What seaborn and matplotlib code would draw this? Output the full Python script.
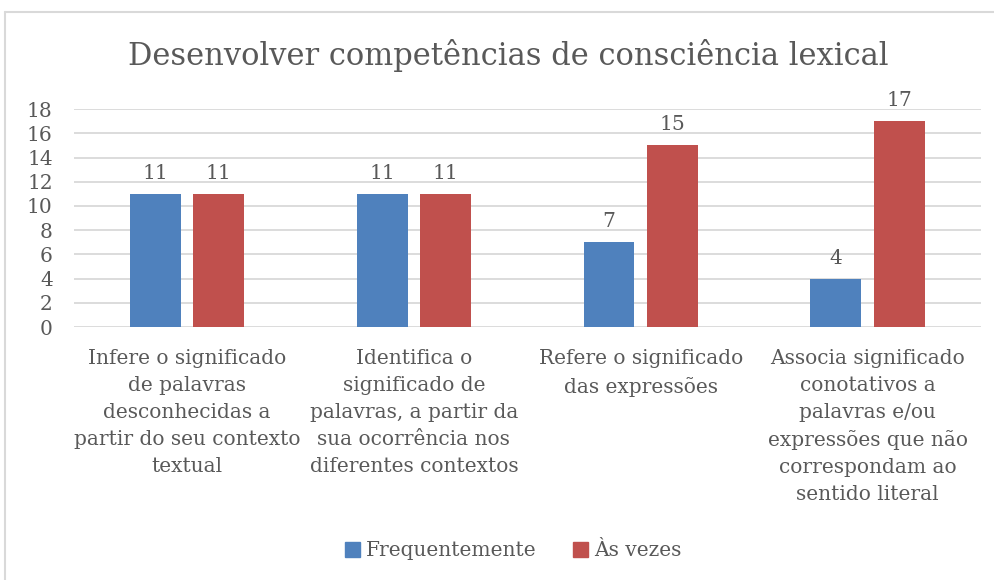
import matplotlib
matplotlib.use("Agg")
import matplotlib.pyplot as plt
import seaborn as sns
import pandas as pd
from matplotlib.lines import Line2D
from matplotlib.patches import Patch

# data
categorias = [
    "Infere o significado\nde palavras\ndesconhecidas a\npartir do seu contexto\ntextual",
    "Identifica o\nsignificado de\npalavras, a partir da\nsua ocorrência nos\ndiferentes contextos",
    "Refere o significado\ndas expressões",
    "Associa significado\nconotativos a\npalavras e/ou\nexpressões que não\ncorrespondam ao\nsentido literal",
]
series = ["Frequentemente", "Às vezes"]
frequentemente = [11, 11, 7, 4]
as_vezes = [11, 11, 15, 17]
cores = ["#4F81BD", "#C0504D"]

df = pd.DataFrame({
    "categoria": categorias * 2,
    "serie": [series[0]] * 4 + [series[1]] * 4,
    "valor": frequentemente + as_vezes,
})

sns.set_style("white")
plt.rcParams["font.family"] = ["DejaVu Serif"]
txt = "#595959"

fig = plt.figure(figsize=(9.94, 5.8), dpi=100)
ax = fig.add_axes([0.074, 0.436, 0.913, 0.376])

sns.barplot(data=df, x="categoria", y="valor", hue="serie", palette=cores,
            width=0.56, gap=0.2, ax=ax, legend=False, saturation=1,
            linewidth=0)

ax.set_ylim(0, 18)
ax.set_yticks(range(0, 19, 2))
ax.yaxis.grid(True, color="#D9D9D9", lw=1.3)
ax.set_axisbelow(True)
for s in ax.spines.values():
    s.set_visible(False)
ax.set_xlabel("")
ax.set_ylabel("")
ax.tick_params(axis="y", length=0, labelsize=14.5, labelcolor=txt, pad=15)
ax.tick_params(axis="x", length=0, labelsize=14.5, labelcolor=txt, pad=16)
for lab in ax.get_xticklabels():
    lab.set_linespacing(1.52)

for cont in ax.containers:
    ax.bar_label(cont, padding=8, fontsize=14.5, color=txt)

fig.text(0.511, 0.905, "Desenvolver competências de consciência lexical",
         ha="center", va="center", fontsize=22, color=txt)

handles = [Patch(color=c) for c in cores]
fig.legend(handles, series, loc="center", bbox_to_anchor=(0.516, 0.05), ncol=2,
           frameon=False, fontsize=14.5, labelcolor=txt, handlelength=0.75,
           handleheight=0.75, handletextpad=0.3, columnspacing=1.8)

# chart border
fig.add_artist(Line2D([5 / 994, 1], [1 - 12 / 580] * 2, color="#D9D9D9", lw=1.5))
fig.add_artist(Line2D([5 / 994] * 2, [0, 1 - 12 / 580], color="#D9D9D9", lw=1.5))

fig.savefig("out.png", dpi=100, facecolor="white")
